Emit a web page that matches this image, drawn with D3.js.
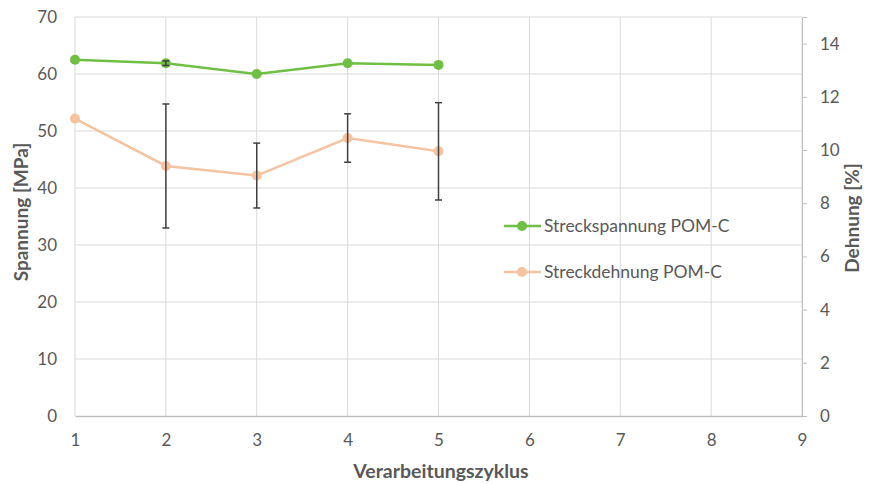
<!DOCTYPE html>
<html>
<head>
<meta charset="utf-8">
<script src="https://cdn.jsdelivr.net/npm/d3@7"></script>
<style>
  body { margin: 0; background: #fff; }
  svg { display: block; }
  text { font-family: Lato, "Open Sans", sans-serif; fill: #595959; }
</style>
</head>
<body>
<svg id="chart" width="870" height="484"></svg>
<script>
// Verarbeitungszyklen (x) and measured values
const cycles = [1, 2, 3, 4, 5];
const spannung = [62.5, 61.9, 60.0, 61.9, 61.6];      // Streckspannung [MPa]
const spannungErr = [0, 0.4, 0, 0, 0];
const dehnung = [11.18, 9.40, 9.04, 10.45, 9.95];    // Streckdehnung [%]
const dehnungErr = [0, 2.33, 1.22, 0.91, 1.83];

const xTicks = [1, 2, 3, 4, 5, 6, 7, 8, 9];
const yLeftTicks = [0, 10, 20, 30, 40, 50, 60, 70];
const yRightTicks = [0, 2, 4, 6, 8, 10, 12, 14];

const seriesNames = ["Streckspannung POM-C", "Streckdehnung POM-C"];
const colors = { green: "#6fbf45", peach: "#f5c3a0", err: "#404040", grid: "#d9d9d9", axis: "#bfbfbf" };

const svg = d3.select("#chart");
const m = { left: 75, right: 802, top: 17, bottom: 416 };

const x = d3.scaleLinear().domain([1, 9]).range([m.left, m.right]);
const yL = d3.scaleLinear().domain([0, 70]).range([m.bottom, m.top]);
const yR = d3.scaleLinear().domain([0, 15]).range([m.bottom, m.top]);

// gridlines
const grid = svg.append("g");
grid.selectAll("line.h").data(yLeftTicks.filter(d => d > 0)).join("line")
  .attr("x1", m.left).attr("x2", m.right)
  .attr("y1", d => yL(d)).attr("y2", d => yL(d))
  .attr("stroke", colors.grid).attr("stroke-width", 1);
grid.selectAll("line.v").data(xTicks).join("line")
  .attr("x1", d => x(d)).attr("x2", d => x(d))
  .attr("y1", m.top).attr("y2", m.bottom)
  .attr("stroke", colors.grid).attr("stroke-width", 1);

const tickFont = sel => sel.attr("font-size", 17).style("fill", "#595959").style("font-family", "Lato, sans-serif");

// left axis (labels only)
const axL = svg.append("g").attr("transform", `translate(${m.left},0)`)
  .call(d3.axisLeft(yL).tickValues(yLeftTicks).tickSize(0).tickPadding(18));
axL.select(".domain").remove();
axL.selectAll("text").call(tickFont);

// right axis
const axR = svg.append("g").attr("transform", `translate(${m.right},0)`)
  .call(d3.axisRight(yR).tickValues(yRightTicks).tickSize(5).tickPadding(13));
axR.select(".domain").attr("stroke", colors.axis);
axR.selectAll(".tick line").attr("stroke", colors.axis);
axR.selectAll("text").call(tickFont);

// bottom axis
const axB = svg.append("g").attr("transform", `translate(0,${m.bottom})`)
  .call(d3.axisBottom(x).tickValues(xTicks).tickSize(0).tickPadding(18).tickFormat(d3.format("d")));
axB.select(".domain").attr("stroke", colors.axis).attr("stroke-width", 1.5);
axB.selectAll("text").call(tickFont);

// axis titles
svg.append("text").attr("transform", "translate(28,212) rotate(-90)")
  .attr("text-anchor", "middle").attr("font-size", 19).attr("font-weight", 700)
  .text("Spannung [MPa]");
svg.append("text").attr("transform", "translate(859,218) rotate(-90)")
  .attr("text-anchor", "middle").attr("font-size", 19).attr("font-weight", 700)
  .text("Dehnung [%]");
svg.append("text").attr("x", 441).attr("y", 478)
  .attr("text-anchor", "middle").attr("font-size", 19.5).attr("font-weight", 700)
  .text("Verarbeitungszyklus");

// series drawing helper
function drawSeries(vals, errs, yScale, color) {
  const g = svg.append("g");
  const pts = cycles.map((c, i) => ({ c, v: vals[i], e: errs[i] }));
  g.append("path").datum(pts)
    .attr("d", d3.line().x(d => x(d.c)).y(d => yScale(d.v)))
    .attr("fill", "none").attr("stroke", color).attr("stroke-width", 2.5);
  g.selectAll("circle").data(pts).join("circle")
    .attr("cx", d => x(d.c)).attr("cy", d => yScale(d.v)).attr("r", 5)
    .attr("fill", color);
  const eb = g.selectAll("g.err").data(pts.filter(d => d.e > 0)).join("g");
  eb.append("line")
    .attr("x1", d => x(d.c)).attr("x2", d => x(d.c))
    .attr("y1", d => yScale(d.v - d.e)).attr("y2", d => yScale(d.v + d.e))
    .attr("stroke", colors.err).attr("stroke-width", 1.5);
  [-1, 1].forEach(s => {
    eb.append("line")
      .attr("x1", d => x(d.c) - 3.5).attr("x2", d => x(d.c) + 3.5)
      .attr("y1", d => yScale(d.v + s * d.e)).attr("y2", d => yScale(d.v + s * d.e))
      .attr("stroke", colors.err).attr("stroke-width", 1.5);
  });
}

drawSeries(dehnung, dehnungErr, yR, colors.peach);
drawSeries(spannung, spannungErr, yL, colors.green);

// legend
const legend = svg.append("g");
const legendItems = [
  { name: seriesNames[0], color: colors.green, y: 226 },
  { name: seriesNames[1], color: colors.peach, y: 272 }
];
legendItems.forEach(it => {
  legend.append("line").attr("x1", 504).attr("x2", 541).attr("y1", it.y).attr("y2", it.y)
    .attr("stroke", it.color).attr("stroke-width", 2.5);
  legend.append("circle").attr("cx", 522).attr("cy", it.y).attr("r", 5).attr("fill", it.color);
  legend.append("text").attr("x", 544).attr("y", it.y).attr("dy", "0.35em")
    .attr("font-size", 17.5).text(it.name);
});
</script>
</body>
</html>
